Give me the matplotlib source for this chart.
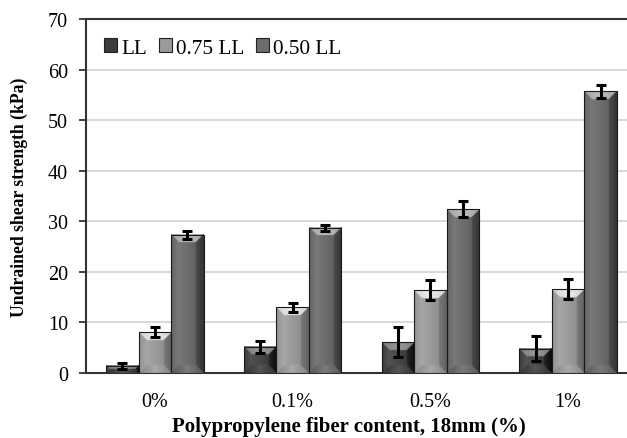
import numpy as np
import matplotlib
matplotlib.use("Agg")
import matplotlib.pyplot as plt
from matplotlib.patches import Patch, Rectangle

categories = ["0%", "0.1%", "0.5%", "1%"]
series = ["LL", "0.75 LL", "0.50 LL"]
ll = [1.4, 5.2, 6.1, 4.8]
ll_err = [0.6, 1.15, 3.0, 2.5]
ll75 = [8.1, 13.0, 16.4, 16.6]
ll75_err = [0.9, 0.9, 2.0, 1.9]
ll50 = [27.3, 28.7, 32.4, 55.7]
ll50_err = [0.8, 0.55, 1.6, 1.3]
yticks = [0, 10, 20, 30, 40, 50, 60, 70]

values = [ll, ll75, ll50]
errors = [ll_err, ll75_err, ll50_err]
base_gray = [0.29, 0.62, 0.44]
legend_colors = ["#3c3c3c", "#9a9a9a", "#6c6c6c"]

plt.rcParams['font.family'] = ['Liberation Serif', 'DejaVu Serif']
W, H = 627, 439
fig = plt.figure(figsize=(W / 100, H / 100), dpi=100)
ax = fig.add_axes([86 / W, 65 / H, 551 / W, 354 / H])
XLIM = (-0.5, 3.5)
YLIM = (0, 70)
ax.set_xlim(*XLIM)
ax.set_ylim(*YLIM)

x = np.arange(len(categories))
bw = 0.236
offsets = [-bw, 0, bw]

ax.set_axisbelow(True)
ax.yaxis.grid(True, color="#d6d6d6", linewidth=1.3)
ax.set_yticks(yticks)
ax.set_xticks(x)
ax.set_xticklabels(categories)


def bevel_image(wpx, hpx, g, ss=3):
    nx = max(int(round(wpx * ss)), 2)
    ny = max(int(round(hpx * ss)), 2)
    px = (np.arange(nx) + 0.5) / ss
    py = (np.arange(ny) + 0.5) / ss
    PX, PY = np.meshgrid(px, py)
    b = min(8.0, wpx / 4.0, hpx / 2.0)
    dl = PX
    dr = wpx - PX
    db = PY
    dt = hpx - PY
    u = PX / wpx
    img = g + 0.07 - 0.17 * u  # face: lighter left-centre, darker right
    d = np.stack([dl, dr, db, dt])
    reg = np.argmin(d, axis=0)
    dmin = np.min(d, axis=0)
    inb = dmin < b
    frac = np.clip(dmin / max(b, 1e-6), 0, 1)
    centre = 1 - np.abs(u - 0.5) * 2
    left_v = g - 0.05 + 0.09 * frac
    right_v = g - 0.24 + 0.10 * frac
    bot_v = g - 0.10 + 0.14 * centre
    top_v = g + 0.20 + 0.10 * centre
    img = np.where(inb & (reg == 0), left_v, img)
    img = np.where(inb & (reg == 1), right_v, img)
    img = np.where(inb & (reg == 2), bot_v, img)
    img = np.where(inb & (reg == 3), top_v, img)
    return np.clip(img, 0, 1)


for si in range(3):
    g = base_gray[si]
    bars = ax.bar(x + offsets[si], values[si], width=bw, color=legend_colors[si],
                  edgecolor="none", zorder=2, label=series[si])
    for r in bars:
        bx, by, bwid, bh = r.get_x(), r.get_y(), r.get_width(), r.get_height()
        (x0, y0) = ax.transData.transform((bx, by))
        (x1, y1) = ax.transData.transform((bx + bwid, by + bh))
        img = bevel_image(x1 - x0, y1 - y0, g)
        ax.imshow(img, extent=(bx, bx + bwid, by, by + bh), origin="lower",
                  aspect="auto", cmap="gray", vmin=0, vmax=1,
                  interpolation="bilinear", zorder=3)
        ax.add_patch(Rectangle((bx, by), bwid, bh, facecolor="none",
                               edgecolor="#1a1a1a", linewidth=0.8, zorder=3.5))
    ax.errorbar(x + offsets[si], values[si], yerr=errors[si], fmt="none",
                ecolor="black", elinewidth=2.2, capsize=3.8, capthick=2.2, zorder=5)

ax.set_xlim(*XLIM)
ax.set_ylim(*YLIM)

for s in ["left", "bottom", "top"]:
    ax.spines[s].set_color("#333333")
    ax.spines[s].set_linewidth(1.5)
ax.spines["right"].set_visible(False)

ax.tick_params(axis="y", direction="out", length=5, width=1.3, color="#333333",
               labelsize=14.5, pad=8)
ax.tick_params(axis="x", length=0, labelsize=14.5, pad=14)

ax.set_ylabel("Undrained shear strength (kPa)", fontsize=12.7, fontweight="bold", labelpad=14)
ax.set_xlabel("Polypropylene fiber content, 18mm (%)", fontsize=15, fontweight="bold",
              va="center")
ax.xaxis.set_label_coords((348.5 - 86) / 551, (374 - 427) / 354)

handles = [Patch(facecolor=legend_colors[i], edgecolor="#222222", linewidth=0.8) for i in range(3)]
ax.legend(handles, series, loc="center left", bbox_to_anchor=(0.033, 0.918), ncol=3,
          frameon=False, fontsize=15.3, handlelength=0.62, handleheight=0.62,
          handletextpad=0.18, columnspacing=0.55, borderpad=0, borderaxespad=0)

fig.savefig("out.png", dpi=100)
